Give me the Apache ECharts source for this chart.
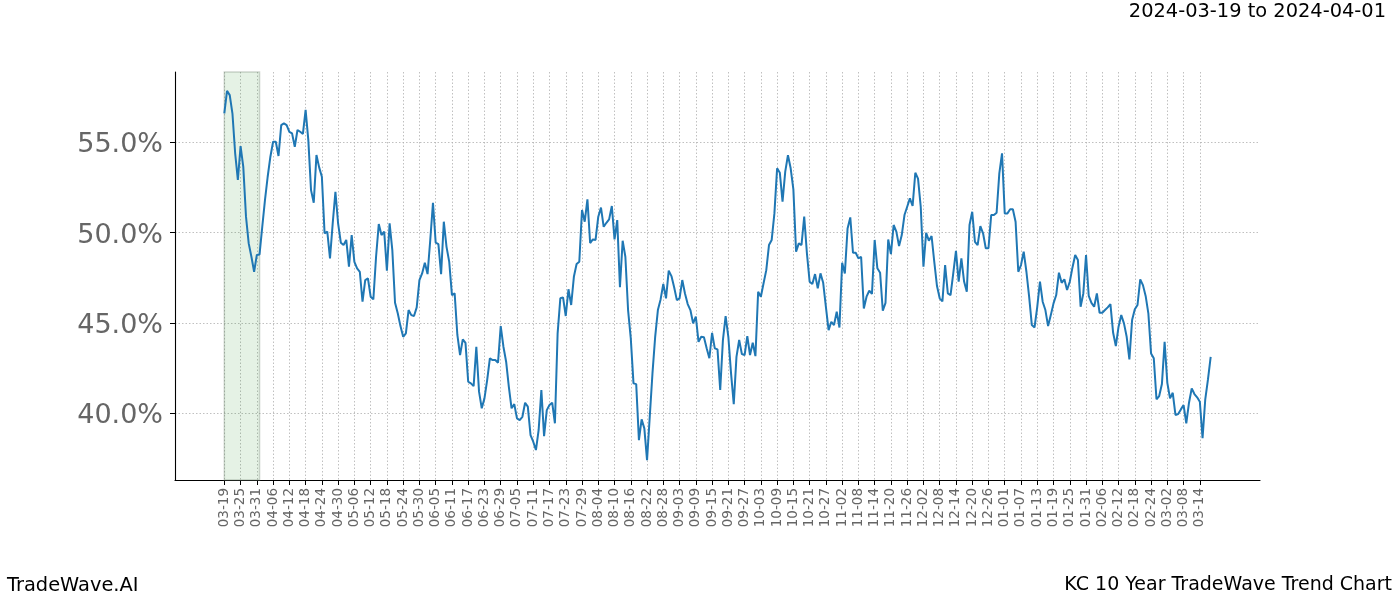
<!DOCTYPE html>
<html><head><meta charset="utf-8">
<script src="https://cdn.jsdelivr.net/npm/echarts@6/dist/echarts.min.js"></script>
<style>html,body{margin:0;padding:0;background:#fff}#c{width:1400px;height:600px}</style>
</head><body><div id="c"></div>
<script>
// ---- data ----
const startDate = [2024, 2, 19]; // 2024-03-19 (UTC, month 0-based)
const values = [
56.61,57.86,57.62,56.6,54.4,52.92,54.8,53.65,50.89,49.41,
48.67,47.84,48.77,48.8,50.33,51.81,53.1,54.21,55.04,55.04,
54.25,55.96,56.06,55.96,55.59,55.5,54.76,55.69,55.59,55.47,
56.8,55.13,52.36,51.66,54.3,53.62,53.1,49.97,50.06,48.58,
50.52,52.27,50.5,49.45,49.32,49.6,48.12,49.87,48.39,48.03,
47.84,46.18,47.38,47.47,46.46,46.31,48.67,50.48,49.87,50.06,
47.9,50.52,49.04,46.12,45.54,44.83,44.24,44.43,45.72,45.44,
45.39,45.87,47.38,47.75,48.34,47.71,49.6,51.66,49.45,49.37,
47.71,50.61,49.22,48.39,46.55,46.64,44.34,43.23,44.1,43.9,
41.75,41.66,41.51,43.69,41.2,40.28,40.83,41.84,43.05,42.95,
42.95,42.8,44.83,43.69,42.86,41.47,40.28,40.51,39.72,39.63,
39.81,40.59,40.37,38.8,38.43,37.97,39.08,41.29,38.74,40.18,
40.46,40.59,39.45,44.43,46.37,46.42,45.39,46.87,46.0,47.56,
48.27,48.39,51.26,50.61,51.85,49.43,49.63,49.6,50.89,51.39,
50.33,50.55,50.74,51.48,49.63,50.7,46.98,49.56,48.67,45.72,
44.15,41.66,41.62,38.52,39.67,39.17,37.41,39.81,42.21,44.24,
45.72,46.31,47.16,46.37,47.9,47.6,46.98,46.27,46.37,47.38,
46.64,46.05,45.72,44.98,45.35,43.96,44.24,44.21,43.6,43.05,
44.46,43.6,43.54,41.29,44.06,45.39,44.24,42.21,40.51,43.13,
44.06,43.28,43.23,44.28,43.23,43.91,43.17,46.73,46.46,47.2,
47.93,49.32,49.6,51.07,53.57,53.32,51.72,53.38,54.3,53.57,
52.4,48.95,49.41,49.32,50.89,48.86,47.29,47.16,47.71,46.92,
47.75,47.23,45.9,44.61,45.07,44.89,45.63,44.75,48.34,47.75,
50.24,50.85,48.89,48.89,48.58,48.67,45.81,46.46,46.79,46.61,
49.6,48.03,47.79,45.68,46.12,49.63,48.82,50.43,50.06,49.26,
49.87,50.98,51.44,51.9,51.48,53.32,53.0,51.44,48.12,50.0,
49.56,49.82,48.39,47.05,46.37,46.2,48.21,46.64,46.55,47.75,
49.0,47.29,48.58,47.3,46.73,50.43,51.16,49.5,49.32,50.37,
49.97,49.14,49.14,50.98,50.98,51.11,53.29,54.4,51.07,51.07,
51.3,51.3,50.61,47.84,48.21,48.95,47.84,46.46,44.89,44.76,
45.9,47.29,46.18,45.72,44.83,45.44,46.09,46.55,47.79,47.23,
47.42,46.83,47.29,48.08,48.77,48.49,45.9,46.64,48.77,46.5,
46.12,45.9,46.64,45.57,45.57,45.72,45.87,46.05,44.46,43.73,
44.8,45.44,44.98,44.24,42.99,45.17,45.76,46.0,47.42,47.1,
46.5,45.54,43.32,43.05,40.78,40.96,41.62,43.96,41.69,40.83,
41.14,39.91,39.96,40.22,40.46,39.45,40.59,41.38,41.07,40.89,
40.64,38.62,40.78,41.88,43.13
];
const yTicks = [40, 45, 50, 55];
const xTickDays = [];
for (let d = 0; d <= 360; d += 6) xTickDays.push(d);
const highlight = [0, 13]; // 03-19 .. 04-01
const titleText = '2024-03-19 to 2024-04-01';
const footLeft = 'TradeWave.AI';
const footRight = 'KC 10 Year TradeWave Trend Chart';

function dayLabel(d) {
  const dt = new Date(Date.UTC(startDate[0], startDate[1], startDate[2]) + Math.round(d) * 86400000);
  return String(dt.getUTCMonth() + 1).padStart(2, '0') + '-' + String(dt.getUTCDate()).padStart(2, '0');
}

const FONT = '"DejaVu Sans", sans-serif';
const chart = echarts.init(document.getElementById('c'), null, {renderer: 'canvas'});
chart.setOption({
  animation: false,
  backgroundColor: '#fff',
  grid: {left: 175, right: 140, top: 72, bottom: 120, containLabel: false},
  xAxis: {
    type: 'value', min: -18.2, max: 382.2,
    axisLine: {show: true, onZero: false, lineStyle: {color: '#000', width: 1.1}},
    axisTick: {show: true, customValues: xTickDays, length: 5, lineStyle: {color: '#000', width: 1}},
    axisLabel: {customValues: xTickDays, rotate: 90, formatter: dayLabel, fontSize: 13.5,
      color: '#666', fontFamily: FONT, margin: 8},
    splitLine: {show: true, lineStyle: {type: [1.5, 2], color: '#b0b0b0', width: 0.8}}
  },
  yAxis: {
    type: 'value', min: 36.31, max: 58.9,
    axisLine: {show: true, onZero: false, lineStyle: {color: '#000', width: 1.1}},
    axisTick: {show: true, customValues: yTicks, length: 5, lineStyle: {color: '#000', width: 1}},
    axisLabel: {customValues: yTicks, formatter: v => '{t|' + v.toFixed(1) + '%}', margin: 12,
      rich: {t: {fontSize: 27, color: '#666', fontFamily: FONT, padding: [6, 0, 0, 0]}}},
    splitLine: {show: true, lineStyle: {type: [1.5, 2], color: '#b0b0b0', width: 0.8}}
  },
  series: [{
    type: 'line',
    data: values.map((v, i) => [i, v]),
    showSymbol: false,
    lineStyle: {color: '#1f77b4', width: 2},
    markArea: {
      silent: true,
      itemStyle: {color: 'rgba(0,128,0,0.1)', borderColor: 'rgba(120,140,120,0.35)', borderWidth: 1.5},
      data: [[{xAxis: highlight[0]}, {xAxis: highlight[1]}]]
    }
  }],
  graphic: [
    {type: 'text', right: 14, top: 2, style: {text: titleText, font: '19.4px ' + FONT, fill: '#000'}},
    {type: 'text', left: 7, top: 576, style: {text: footLeft, font: '19.4px ' + FONT, fill: '#000'}},
    {type: 'text', right: 8, top: 576, style: {text: footRight, font: '19px ' + FONT, fill: '#000'}}
  ]
});
</script></body></html>
